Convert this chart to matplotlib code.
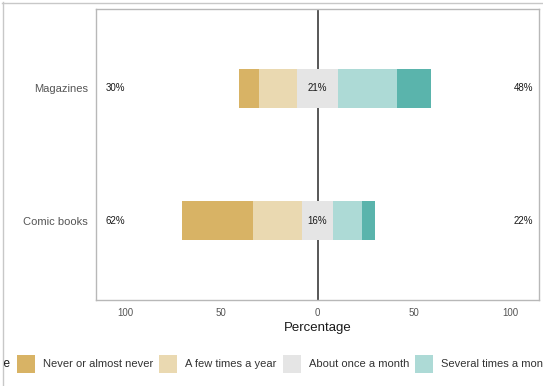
import matplotlib
matplotlib.use("Agg")
import matplotlib.pyplot as plt
from matplotlib.patches import Rectangle
from matplotlib.lines import Line2D
from matplotlib.transforms import Bbox, TransformedBbox

plt.rcParams['font.family'] = ['Liberation Sans', 'DejaVu Sans']

# data (percent of answers per item)
items = ['Comic books', 'Magazines']
responses = ['Never or almost never', 'A few times a year', 'About once a month',
             'Several times a month', 'Several times a week']
never = [36.5, 10.2]
few = [25.7, 19.9]
monthly = [15.8, 21.1]
several = [15.0, 30.8]
weekly = [7.0, 17.6]
colors = ['#D8B365', '#EAD9B1', '#E5E5E5', '#ADDAD6', '#5AB4AC']

W, H = 543, 386
fig = plt.figure(figsize=(W / 100, H / 100), dpi=100)
ax = fig.add_axes([96 / W, 1 - 300 / H, (539 - 96) / W, (300 - 9) / H])

y = list(range(1, len(items) + 1))
for i in range(len(items)):
    left = -(never[i] + few[i] + monthly[i] / 2)
    segs = [never[i], few[i], monthly[i], several[i], weekly[i]]
    for s, c in zip(segs, colors):
        ax.barh(y[i], s, left=left, height=0.3, color=c, linewidth=0, zorder=2)
        left += s
    low = never[i] + few[i]
    high = several[i] + weekly[i]
    ax.text(-110, y[i], '%d%%' % round(low), ha='left', va='center', fontsize=7, color='#1a1a1a')
    ax.text(112, y[i], '%d%%' % round(high), ha='right', va='center', fontsize=7, color='#1a1a1a')
    ax.text(0, y[i], '%d%%' % round(monthly[i]), ha='center', va='center', fontsize=7,
            color='#1a1a1a', zorder=4)

# zero line sits behind the bars
ax.axvline(0, color='#4a4a4a', linewidth=1.3, zorder=1)

ax.set_xlim(-115, 115)
ax.set_ylim(0.4, 2.6)
ax.set_xticks([-100, -50, 0, 50, 100])
ax.set_xticklabels(['100', '50', '0', '50', '100'])
ax.set_yticks(y)
ax.set_yticklabels(items)
ax.tick_params(length=0, labelsize=7, colors='#555555', pad=6)
ax.tick_params(axis='y', labelsize=8, pad=6)
ax.set_xlabel('Percentage', fontsize=9.5, color='#1a1a1a', labelpad=3)
for sp in ax.spines.values():
    sp.set_color('#b8b8b8')
    sp.set_linewidth(1.0)

# outer frame (cropped screenshot edge)
fig.add_artist(Line2D([2.5 / W, 2.5 / W], [0, 1 - 2 / H], color='#c8c8c8', linewidth=1))
fig.add_artist(Line2D([2 / W, 1], [1 - 2.5 / H, 1 - 2.5 / H], color='#c8c8c8', linewidth=1))

# legend in one row under the plot, cut by the frame on both sides
ly = 1 - 364 / H
clip = TransformedBbox(Bbox([[3 / W, 0], [1, 1]]), fig.transFigure)
title = fig.text(10 / W, ly, 'Response', ha='right', va='center', fontsize=8.5, color='#1a1a1a')
title.set_clip_box(clip)
title.set_clip_on(True)
renderer = fig.canvas.get_renderer()
x = 17
for lab, c in zip(responses, colors):
    fig.add_artist(Rectangle((x / W, 1 - 373 / H), 18 / W, 18 / H, facecolor=c,
                             edgecolor='none', transform=fig.transFigure))
    t = fig.text((x + 26) / W, ly, lab, ha='left', va='center', fontsize=8, color='#333333')
    bb = t.get_window_extent(renderer)
    x = bb.x1 + 6

fig.savefig('out.png', dpi=100)
